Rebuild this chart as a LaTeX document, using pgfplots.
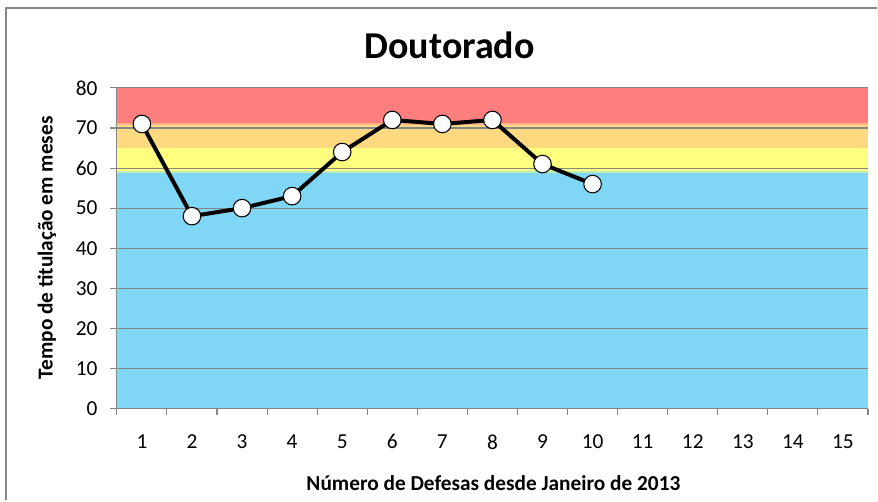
\documentclass[border=0pt]{standalone}
\usepackage{fontspec}
\setmainfont{Carlito}
\usepackage{pgfplots}
\pgfplotsset{compat=1.18}
\definecolor{bandred}{HTML}{FF7F7F}
\definecolor{bandline}{HTML}{FFB58A}
\definecolor{bandorange}{HTML}{FFD97F}
\definecolor{bandyellow}{HTML}{FFFF7F}
\definecolor{bandgreen}{HTML}{BEEBB8}
\definecolor{bandblue}{HTML}{7FD6F5}
\definecolor{gridgray}{HTML}{868686}
\definecolor{framegray}{HTML}{888888}

\begin{document}
\begin{tikzpicture}[x=0.75pt,y=-0.75pt]
  \path (0,0) rectangle (878,501);
  % outer chart frame (runs off the right and bottom edges)
  \draw[framegray, line width=1.5pt] (6,501) -- (6,8) -- (878,8);

  \begin{axis}[
      set layers,
      at={(87.75pt,-306.75pt)}, anchor=south west,
      scale only axis,
      width=564pt, height=240.75pt,
      xmin=0.5, xmax=15.5,
      ymin=0, ymax=80,
      axis lines=left,
      axis line style={gridgray, line width=0.8pt, -},
      xtick={1,...,15},
      minor xtick={0.5,1.5,...,15.5},
      major x tick style={draw=none},
      minor x tick style={draw=gridgray, line width=0.8pt},
      ytick={0,10,...,80},
      y tick style={draw=gridgray, line width=0.8pt},
      tick align=outside,
      major tick length=5pt,
      minor tick length=5pt,
      ymajorgrids=true,
      grid style={gridgray, line width=0.8pt},
      tick label style={font=\fontsize{16}{18}\selectfont, black},
      /pgf/number format/assume math mode=true,
      xticklabel style={yshift=-11pt},
      yticklabel style={xshift=-6pt},
      clip=false,
    ]
    % background bands
    \addplot[on layer=axis background, draw=none, fill=bandblue]   coordinates {(0.5,0) (15.5,0) (15.5,58.8) (0.5,58.8)};
    \addplot[on layer=axis background, draw=none, fill=bandgreen]  coordinates {(0.5,58.8) (15.5,58.8) (15.5,59.3) (0.5,59.3)};
    \addplot[on layer=axis background, draw=none, fill=bandyellow] coordinates {(0.5,59.3) (15.5,59.3) (15.5,65.1) (0.5,65.1)};
    \addplot[on layer=axis background, draw=none, fill=bandorange] coordinates {(0.5,65.1) (15.5,65.1) (15.5,70.8) (0.5,70.8)};
    \addplot[on layer=axis background, draw=none, fill=bandline]   coordinates {(0.5,70.8) (15.5,70.8) (15.5,71.2) (0.5,71.2)};
    \addplot[on layer=axis background, draw=none, fill=bandred]    coordinates {(0.5,71.2) (15.5,71.2) (15.5,80) (0.5,80)};
    % series
    \addplot[black, line width=3pt, line join=round,
             mark=*, mark size=6.6pt,
             mark options={fill=white, draw=black, line width=0.8pt}]
      coordinates {(1,71) (2,48) (3,50) (4,53) (5,64)
                   (6,72) (7,71) (8,72) (9,61) (10,56)};
  \end{axis}

  \node[anchor=base, font=\bfseries\fontsize{28.5}{32}\selectfont] at (450,59) {Doutorado};
  \node[anchor=base, font=\bfseries\fontsize{16}{18}\selectfont] at (494,491) {Número de Defesas desde Janeiro de 2013};
  \node[rotate=90, font=\bfseries\fontsize{16}{18}\selectfont] at (47,248) {Tempo de titulação em meses};
\end{tikzpicture}
\end{document}
